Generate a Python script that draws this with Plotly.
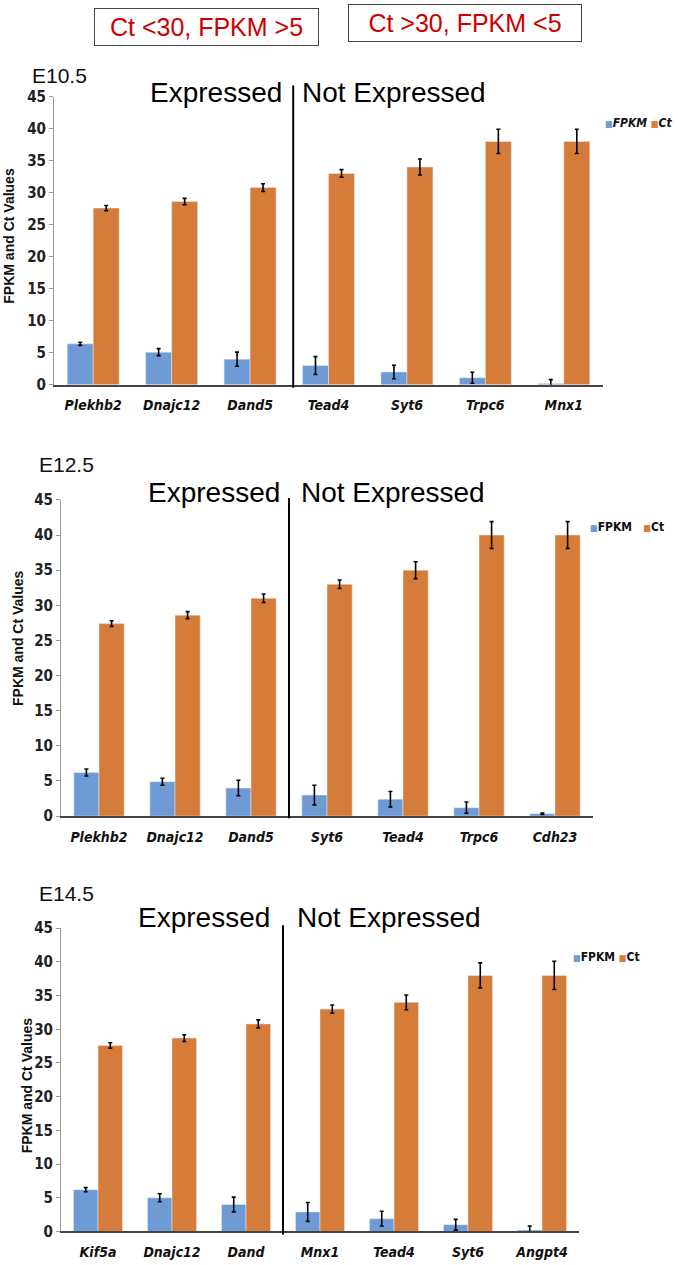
import plotly.graph_objects as go

# ---------------- data ----------------
genes_e105 = ["Plekhb2", "Dnajc12", "Dand5", "Tead4", "Syt6", "Trpc6", "Mnx1"]
fpkm_e105 = [6.4, 5.1, 4.0, 3.0, 2.0, 1.1, 0.2]
fpkm_err_e105 = [0.25, 0.55, 1.1, 1.4, 1.05, 0.85, 0.6]
ct_e105 = [27.6, 28.6, 30.8, 33.0, 34.0, 38.0, 38.0]
ct_err_e105 = [0.4, 0.5, 0.6, 0.6, 1.25, 1.9, 1.9]

genes_e125 = ["Plekhb2", "Dnajc12", "Dand5", "Syt6", "Tead4", "Trpc6", "Cdh23"]
fpkm_e125 = [6.2, 4.9, 4.0, 3.0, 2.4, 1.2, 0.35]
fpkm_err_e125 = [0.5, 0.5, 1.1, 1.4, 1.1, 0.8, 0.1]
ct_e125 = [27.4, 28.6, 31.0, 33.0, 35.0, 40.0, 40.0]
ct_err_e125 = [0.4, 0.5, 0.6, 0.6, 1.2, 1.9, 1.9]

genes_e145 = ["Kif5a", "Dnajc12", "Dand", "Mnx1", "Tead4", "Syt6", "Angpt4"]
fpkm_e145 = [6.2, 5.0, 4.0, 2.9, 1.9, 1.0, 0.2]
fpkm_err_e145 = [0.3, 0.6, 1.1, 1.4, 1.1, 0.8, 0.6]
ct_e145 = [27.6, 28.7, 30.8, 33.0, 34.0, 38.0, 38.0]
ct_err_e145 = [0.4, 0.5, 0.6, 0.6, 1.1, 1.85, 2.1]

stage_labels = ["E10.5", "E12.5", "E14.5"]
box_labels = ["Ct <30, FPKM >5", "Ct >30, FPKM <5"]
group_labels = ["Expressed", "Not Expressed"]
series_names = ["FPKM", "Ct"]
y_title = "FPKM and Ct Values"

BLUE = "#6e9bd6"
ORANGE = "#d67c3a"
W, H = 677, 1265
NARROW = "Liberation Sans Narrow, Arial Narrow, DejaVu Sans Condensed, sans-serif"
SANS = "Liberation Sans, Arial, sans-serif"

panels = [
    (genes_e105, fpkm_e105, fpkm_err_e105, ct_e105, ct_err_e105),
    (genes_e125, fpkm_e125, fpkm_err_e125, ct_e125, ct_err_e125),
    (genes_e145, fpkm_e145, fpkm_err_e145, ct_e145, ct_err_e145),
]

# pixel geometry of each panel: (x_left, x_right, y_top(45), y_bottom(0))
geom = [(54, 603, 97, 385), (61, 593, 500, 816), (61, 579, 928, 1231)]
sep_x = [2.55, 2.5, 2.5]
sep_y = [(86, 388), (498, 818), (925, 1234)]
title_pos = [(30, 76), (37, 465), (37, 893)]
expr_pos = [(284, 300, 93), (282, 299, 493), (272, 295, 917)]
ytitle_pos = [(9, 236), (18, 638), (27, 1085)]
legend_pos = [(674, 123, "&nbsp;"), (666, 527, "&nbsp;&nbsp;&nbsp;"), (642, 957, "&nbsp;")]


def px(x):
    return x / W


def py(y):
    # compensate the slight vertical squeeze observed in the rendered page
    y_adj = (y - 9.5) / 0.985
    return 1 - y_adj / H


fig = go.Figure()
layout = dict(
    width=W, height=H, margin=dict(l=0, r=0, t=0, b=0),
    paper_bgcolor="white", plot_bgcolor="white",
    barmode="group", bargap=0.337, bargroupgap=0,
    showlegend=False,
)
annotations = []
shapes = []

for i, (genes, fpkm, fe, ct, ce) in enumerate(panels):
    sfx = "" if i == 0 else str(i + 1)
    xa, ya = "x" + sfx, "y" + sfx
    err_style = dict(type="data", color="black", thickness=1.6, width=2)
    fig.add_trace(go.Bar(x=genes, y=fpkm, name=series_names[0], marker_color=BLUE,
                         error_y=dict(array=fe, **err_style), xaxis=xa, yaxis=ya))
    fig.add_trace(go.Bar(x=genes, y=ct, name=series_names[1], marker_color=ORANGE,
                         error_y=dict(array=ce, **err_style), xaxis=xa, yaxis=ya))
    x0, x1, yt, yb = geom[i]
    layout["xaxis" + sfx] = dict(
        domain=[px(x0), px(x1)], anchor=ya, showline=True, linecolor="#444", linewidth=1.5,
        ticks="", showgrid=False, ticklabelstandoff=7,
        tickfont=dict(family=NARROW, size=14, weight="bold", style="italic", color="#111"),
    )
    layout["yaxis" + sfx] = dict(
        domain=[py(yb), py(yt)], anchor=xa, range=[0, 45], dtick=5, tick0=0,
        showline=True, linecolor="#999", linewidth=1, ticks="outside", ticklen=4,
        tickcolor="#999", showgrid=False, zeroline=False,
        tickfont=dict(family=NARROW, size=15, weight="bold", color="#222"),
    )
    shapes.append(dict(type="line", xref=xa, yref="paper", x0=sep_x[i], x1=sep_x[i],
                       y0=py(sep_y[i][1]), y1=py(sep_y[i][0]),
                       line=dict(color="black", width=2)))
    tx, ty = title_pos[i]
    annotations.append(dict(text=stage_labels[i], xref="paper", yref="paper", x=px(tx), y=py(ty),
                            xanchor="left", yanchor="middle", showarrow=False,
                            font=dict(family=SANS, size=21, color="#111")))
    ex_r, nx_l, ey = expr_pos[i]
    annotations.append(dict(text=group_labels[0], xref="paper", yref="paper", x=px(ex_r), y=py(ey),
                            xanchor="right", yanchor="middle", showarrow=False,
                            font=dict(family=SANS, size=28, color="black")))
    annotations.append(dict(text=group_labels[1], xref="paper", yref="paper", x=px(nx_l), y=py(ey),
                            xanchor="left", yanchor="middle", showarrow=False,
                            font=dict(family=SANS, size=28, color="black")))
    yx, yy = ytitle_pos[i]
    annotations.append(dict(text="<b>" + y_title + "</b>", xref="paper", yref="paper", x=px(yx), y=py(yy),
                            xanchor="center", yanchor="middle", textangle=-90, showarrow=False,
                            font=dict(family=SANS, size=14, color="#111")))
    lx, ly, gap = legend_pos[i]
    if i == 0:
        n0, n1 = "<i>" + series_names[0] + "</i>", "<i>" + series_names[1] + "</i>"
    else:
        n0, n1 = series_names[0], series_names[1]
    leg = (f'<span style="color:{BLUE};font-size:9px">■</span>{n0}{gap}'
           f'<span style="color:{ORANGE};font-size:9px">■</span>{n1}')
    annotations.append(dict(text=leg, xref="paper", yref="paper", x=px(lx), y=py(ly),
                            xanchor="right", yanchor="middle", showarrow=False,
                            font=dict(family=NARROW, size=12, weight="bold", color="#111")))

# top boxes
annotations.append(dict(text=box_labels[0], xref="paper", yref="paper", x=px(206), y=py(27),
                        xanchor="center", yanchor="middle", showarrow=False,
                        font=dict(family=SANS, size=25, color="#cc0000"),
                        bordercolor="#444", borderwidth=1, borderpad=4, width=215, bgcolor="white"))
annotations.append(dict(text=box_labels[1], xref="paper", yref="paper", x=px(465), y=py(23),
                        xanchor="center", yanchor="middle", showarrow=False,
                        font=dict(family=SANS, size=25, color="#cc0000"),
                        bordercolor="#444", borderwidth=1, borderpad=4, width=224, bgcolor="white"))

layout["annotations"] = annotations
layout["shapes"] = shapes
fig.update_layout(**layout)
fig.write_html(
    "out.html",
    config={"displayModeBar": False},
    post_script="document.body.style.margin='0px';document.body.style.padding='0px';",
)
